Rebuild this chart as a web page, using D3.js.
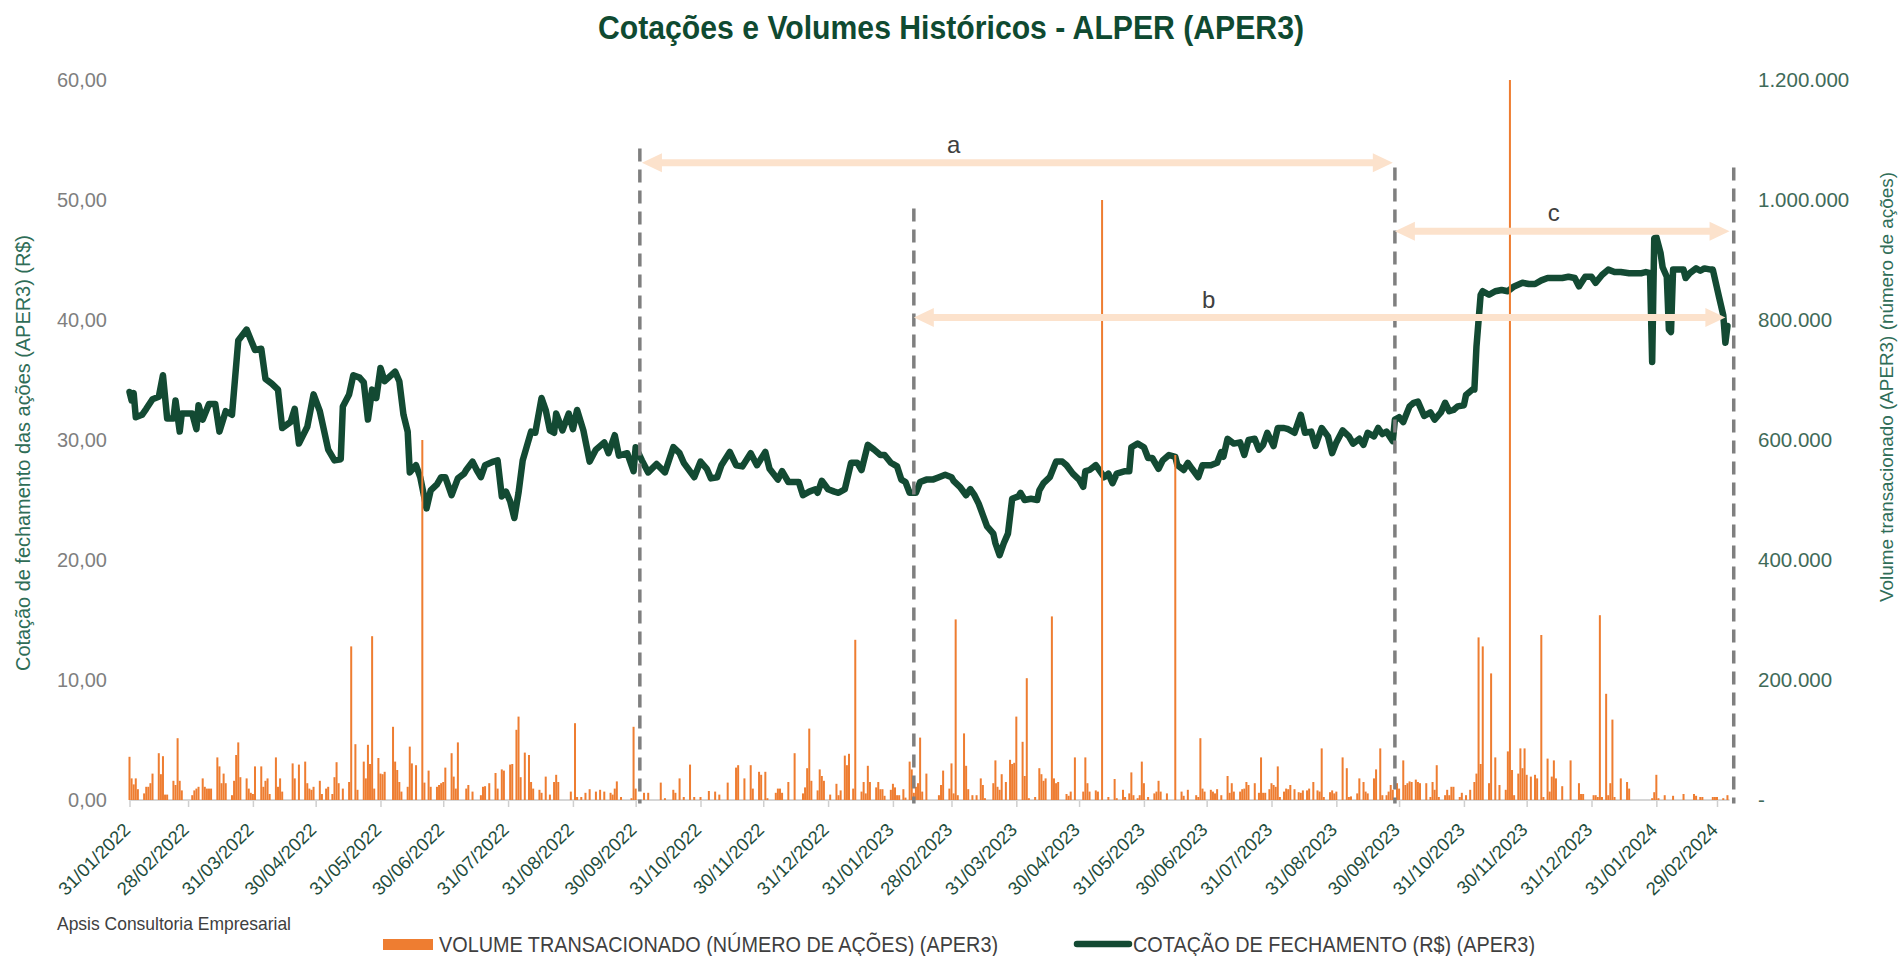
<!DOCTYPE html>
<html><head><meta charset="utf-8">
<script src="https://cdn.jsdelivr.net/npm/d3@7"></script>
<style>
body{margin:0;background:#fff;}
svg{display:block;}
text{font-family:'Liberation Sans',Arial,sans-serif;}
</style></head><body>
<svg id="chart" width="1898" height="956"></svg>
<script>
// ---------------- DATA ----------------
const START = "2022-01-31"; // day 0 of the series (days below are calendar days since START)
const tickLabels = ["31/01/2022","28/02/2022","31/03/2022","30/04/2022","31/05/2022","30/06/2022","31/07/2022","31/08/2022","30/09/2022","31/10/2022","30/11/2022","31/12/2022","31/01/2023","28/02/2023","31/03/2023","30/04/2023","31/05/2023","30/06/2023","31/07/2023","31/08/2023","30/09/2023","31/10/2023","30/11/2023","31/12/2023","31/01/2024","29/02/2024"];
const leftTicks = [0,10,20,30,40,50,60];
const rightTicks = [0,200000,400000,600000,800000,1000000,1200000];
// closing price (R$): [day, price]
const closePrice = [[0,34.0],[1,33.3],[2,33.9],[3,31.9],[6,32.1],[8,32.6],[11,33.4],[14,33.6],[16,35.4],[18,31.8],[21,31.8],[22,33.3],[24,30.7],[25,32.2],[30,32.2],[32,30.9],[33,32.9],[35,31.7],[38,33.0],[41,33.0],[43,30.7],[46,32.4],[49,32.1],[52,38.3],[56,39.2],[60,37.5],[63,37.6],[65,35.1],[68,34.7],[71,34.2],[73,31.0],[77,31.5],[79,32.6],[81,29.7],[85,31.1],[88,33.8],[91,32.4],[95,29.2],[98,28.3],[101,28.4],[102,32.8],[105,33.8],[107,35.4],[110,35.2],[112,34.8],[114,31.7],[116,34.2],[118,33.5],[120,36.0],[122,34.9],[127,35.7],[129,34.9],[131,32.1],[133,30.7],[134,27.3],[137,27.9],[139,26.9],[142,24.3],[144,25.8],[147,26.3],[149,26.9],[151,26.9],[154,25.4],[157,26.8],[160,27.2],[161,27.5],[164,28.2],[166,27.5],[168,26.9],[170,27.9],[174,28.2],[176,28.3],[178,25.3],[180,25.7],[182,24.9],[184,23.5],[186,25.6],[188,28.3],[192,30.7],[194,30.6],[197,33.5],[199,32.5],[201,30.8],[203,30.6],[204,32.2],[207,30.8],[210,32.2],[212,30.9],[214,32.5],[217,30.8],[220,28.2],[223,29.2],[227,29.8],[229,28.9],[232,30.4],[234,28.7],[238,28.9],[241,27.4],[242,29.4],[245,28.3],[248,27.3],[252,28.0],[256,27.3],[260,29.4],[263,28.9],[265,28.1],[270,26.9],[273,28.2],[276,27.6],[278,26.8],[281,26.9],[283,27.9],[287,29.0],[290,27.9],[293,27.8],[297,28.9],[300,27.9],[304,29.0],[306,27.6],[310,26.7],[312,27.4],[315,26.5],
[320,26.5],[322,25.4],[325,25.7],[328,25.9],[329,25.6],[331,26.6],[334,25.9],[337,25.7],[339,25.6],[342,25.9],[345,28.1],[348,28.1],[350,27.5],[353,29.6],[356,29.2],[359,28.75],[361,28.75],[364,28.1],[367,27.8],[369,26.7],[371,26.5],[373,25.6],[376,25.6],[378,26.5],[381,26.7],[384,26.7],[387,26.9],[390,27.1],[393,26.9],[394,26.6],[397,26.1],[400,25.4],[402,25.9],[404,25.4],[406,24.7],[408,23.75],[410,22.8],[413,22.2],[414,21.4],[416,20.4],[418,21.4],[420,22.2],[422,25.1],[425,25.3],[426,25.6],[428,25.0],[431,25.1],[434,25.0],[435,25.8],[437,26.4],[440,26.9],[443,28.2],[446,28.2],[448,27.9],[451,27.2],[454,26.7],[456,26.1],[457,27.4],[459,27.5],[462,27.9],[464,27.4],[466,26.9],[468,27.2],[470,26.4],[472,27.2],[476,27.4],[478,27.4],[479,29.4],[482,29.7],[485,29.4],[487,28.5],[489,28.5],[492,27.6],[494,28.3],[497,28.75],[500,28.6],[501,27.9],[504,27.5],[506,28.1],[508,27.6],[511,26.9],[513,27.9],[517,27.9],[520,28.1],[522,29.0],[523,28.6],[525,30.1],[528,29.7],[531,29.8],[533,28.75],[535,30.0],[538,30.1],[540,29.2],[542,29.6],[544,30.6],[547,29.5],[549,31.0],[552,31.0],[554,30.9],[557,30.6],[560,32.1],[562,30.6],[565,30.7],[567,29.5],[570,31.0],[573,30.3],[575,28.9],[577,29.8],[580,30.8],
[583,30.3],[585,29.7],[588,30.1],[590,29.6],[592,30.6],[595,30.3],[597,31.0],[599,30.5],[601,30.7],[604,29.9],[605,31.7],[607,31.9],[609,31.5],[612,32.8],[614,33.1],[616,33.2],[619,32.0],[622,32.3],[624,31.7],[627,32.3],[629,33.1],[631,32.4],[633,32.5],[635,32.8],[638,32.9],[639,33.75],[642,34.2],[643,34.2],[644,37.8],[646,42.1],[647,42.4],[650,42.1],[653,42.4],[656,42.5],[659,42.4],[662,42.8],[666,43.1],[669,43.0],[672,43.0],[675,43.3],[678,43.5],[682,43.5],[685,43.5],[688,43.6],[691,43.5],[693,42.8],[696,43.6],[699,43.6],[701,43.1],[704,43.75],[707,44.2],[710,44.0],[713,44.0],[717,43.9],[720,43.9],[723,43.9],[725,44.0],[727,43.9],[728,36.5],[729,46.8],[730,46.9],[732,45.6],[733,44.4],[735,43.6],[736,39.2],[737,39.0],[738,44.2],[740,44.2],[743,44.2],[744,43.5],[746,43.9],[749,44.3],[751,44.1],[753,44.3],[756,44.2],[757,44.2],[760,41.9],[762,40.4],[763,38.1],[764,39.5]];
// traded volume (thousand shares): [day, volume]
const volumeK = [[0,72],[1,36],[2,26],[3,36],[4,18],[7,11],[8,22],[9,22],[10,28],[11,44],[14,78],[15,43],[16,73],[17,9],[18,9],[21,32],[22,25],[23,103],[24,32],[25,16],[30,8],[31,16],[32,19],[33,22],[35,36],[36,22],[37,19],[38,19],[39,19],[42,71],[43,56],[44,28],[45,44],[46,28],[49,8],[50,32],[51,75],[52,96],[53,38],[56,36],[57,19],[58,12],[59,10],[60,56],[63,56],[64,22],[65,32],[66,36],[67,10],[70,71],[71,22],[72,36],[73,14],[78,61],[79,36],[81,59],[84,64],[85,28],[86,19],[87,17],[88,22],[91,32],[92,10],[94,19],[95,22],[97,10],[98,38],[99,63],[100,28],[102,19],[105,30],[106,256],[108,93],[109,17],[112,64],[113,36],[114,92],[115,60],[116,273],[117,19],[119,70],[120,44],[121,43],[122,47],[126,122],[127,64],[128,50],[129,30],[130,14],[133,22],[134,89],[135,61],[137,58],[140,600],[141,29],[143,49],[144,22],[147,22],[148,25],[149,28],[150,30],[151,54],[154,78],[155,39],[156,19],[157,96],[161,19],[162,25],[164,14],[168,8],[169,22],[170,23],[172,28],[175,45],[176,19],[178,51],[179,49],[182,59],[183,60],[185,117],[186,139],[187,38],[189,79],[191,75],[192,30],[193,19],[196,17],[197,12],[199,39],[201,9],[203,30],[204,42],[205,30],[211,14],[213,128],[214,5],[216,5],[218,12],[220,18],[223,14],[225,17],[227,14],[230,12],[231,9],[232,19],[233,31],[235,5],[240,3],[241,122],[242,19],[246,12],[248,12],[254,29],[256,3],[260,17],[261,12],[263,36],[265,5],[268,59],[270,5],[273,5],[277,15],[280,14],[282,9],[286,29],[290,54],[291,58],[294,36],[297,58],[298,19],[301,47],[302,42],[304,47],[305,3],[309,12],[310,19],[311,19],[312,12],[315,30],[318,78],
[322,11],[323,21],[324,53],[325,119],[326,32],[329,16],[330,51],[331,40],[332,32],[335,9],[338,27],[339,8],[340,16],[342,74],[343,58],[344,77],[346,19],[347,267],[350,14],[351,30],[352,11],[353,57],[354,30],[357,21],[358,30],[359,18],[360,18],[361,7],[364,17],[365,27],[366,21],[367,8],[368,8],[370,18],[371,4],[373,64],[374,51],[375,12],[376,22],[377,28],[378,104],[379,14],[381,44],[387,8],[388,25],[389,49],[392,19],[393,61],[394,11],[395,301],[396,8],[399,111],[400,57],[401,18],[403,8],[405,8],[407,36],[408,25],[409,3],[413,28],[414,66],[415,22],[416,17],[417,43],[419,30],[421,67],[422,60],[423,62],[424,139],[427,97],[428,40],[429,203],[430,3],[433,5],[435,53],[436,43],[437,32],[438,36],[441,306],[442,36],[443,28],[444,30],[448,10],[449,7],[450,14],[452,71],[456,14],[457,71],[458,28],[459,14],[462,16],[463,14],[465,1000],[468,5],[471,35],[472,3],[475,17],[476,5],[478,11],[479,46],[480,8],[482,3],[483,8],[484,64],[485,28],[487,5],[490,11],[491,14],[492,32],[493,14],[496,11],[500,575],[503,14],[504,7],[506,17],[510,8],[511,5],[512,103],[513,19],[514,14],[517,17],[518,14],[519,11],[520,18],[522,8],[525,40],[526,12],[527,28],[528,14],[531,14],[532,18],[533,19],[534,30],[535,25],[538,28],[540,12],[541,71],[542,12],[543,12],[545,18],[546,28],[547,25],[548,22],[549,56],[550,5],[552,14],[553,19],[554,18],[555,25],[557,18],
[559,13],[560,12],[561,16],[563,16],[564,19],[566,30],[568,16],[569,14],[570,86],[571,5],[574,13],[575,16],[576,11],[577,14],[580,71],[582,53],[583,5],[584,6],[587,11],[588,36],[590,30],[591,14],[592,11],[595,36],[596,51],[598,86],[599,8],[601,8],[602,14],[603,25],[604,17],[606,28],[607,19],[609,66],[610,25],[611,28],[612,31],[613,30],[615,34],[616,30],[617,28],[620,28],[622,5],[623,30],[624,17],[625,58],[626,5],[629,8],[630,17],[631,8],[632,22],[633,22],[636,5],[637,12],[639,8],[641,17],[643,30],[644,44],[645,271],[646,60],[647,256],[650,28],[651,211],[653,71],[655,25],[658,17],[659,81],[660,1200],[661,50],[662,8],[664,44],[665,86],[666,53],[667,86],[668,42],[670,39],[672,42],[673,36],[675,275],[676,5],[678,69],[679,14],[680,39],[681,66],[682,36],[685,23],[689,66],[693,28],[694,10],[695,10],[700,8],[701,8],[702,5],[703,308],[704,5],[706,177],[707,8],[708,28],[709,134],[710,5],[713,36],[716,30],[717,19],[728,3],[729,13],[730,42],[731,3],[734,8],[738,7],[743,10],[748,10],[749,7],[751,5],[752,5],[757,5],[758,5],[759,5],[762,3],[764,8]];
// period annotations (dashed markers: day, top in R$ units; arrows between days at R$ level)
const markerDays = [244, 375, 605, 767];
const markerTops = [54.3, 49.3, 52.7, 52.7];
const arrowNames = ["a","b","c"];
const arrowFrom = [245, 375.5, 605.5];
const arrowTo = [604, 763, 765.5];
const arrowLevel = [53.1, 40.2, 47.4];
const arrowLabelDay = [394, 516, 681];
const arrowLabelLevel = [54.6, 41.75, 49.0];

// ---------------- CHART ----------------
const svg = d3.select('#chart');
const t0 = d3.utcParse('%Y-%m-%d')(START);
const toDate = d => d3.utcDay.offset(t0, d);
const parseTick = d3.utcParse('%d/%m/%Y');
const tickDates = tickLabels.map(parseTick);

const x = d3.scaleUtc().domain([toDate(0), parseTick('29/02/2024')]).range([129.5, 1717]);
const yL = d3.scaleLinear().domain([0, 60]).range([800, 80]);
const yR = d3.scaleLinear().domain([0, 1200000]).range([800, 80]);

// title
svg.append('text').attr('x', 951).attr('y', 39).attr('text-anchor', 'middle')
  .attr('font-size', 33).attr('font-weight', 'bold').attr('fill', '#0f4a31')
  .attr('textLength', 706).attr('lengthAdjust', 'spacingAndGlyphs')
  .text('Cotações e Volumes Históricos - ALPER (APER3)');

// left axis
const gL = svg.append('g').attr('transform', 'translate(107,0)')
  .call(d3.axisLeft(yL).tickValues(leftTicks).tickSize(0).tickPadding(0)
    .tickFormat(d => d3.format('.2f')(d).replace('.', ',')));
gL.select('.domain').remove();
gL.selectAll('text').attr('font-size', 20).attr('fill', '#7f7f7f').attr('font-family', "'Liberation Sans',Arial,sans-serif");

// right axis
const gR = svg.append('g').attr('transform', 'translate(1758,0)')
  .call(d3.axisRight(yR).tickValues(rightTicks).tickSize(0).tickPadding(0)
    .tickFormat(d => d === 0 ? '-' : d3.format(',')(d).replace(/,/g, '.')));
gR.select('.domain').remove();
gR.selectAll('text').attr('font-size', 20.5).attr('fill', '#3f6b59').attr('font-family', "'Liberation Sans',Arial,sans-serif");

// axis titles
svg.append('text').attr('transform', 'translate(30,453) rotate(-90)').attr('text-anchor', 'middle')
  .attr('font-size', 20).attr('fill', '#2f6d57').attr('textLength', 436).attr('lengthAdjust', 'spacingAndGlyphs')
  .text('Cotação de fechamento das ações (APER3) (R$)');
svg.append('text').attr('transform', 'translate(1893,387) rotate(-90)').attr('text-anchor', 'middle')
  .attr('font-size', 19).attr('fill', '#2f6d57').attr('textLength', 430).attr('lengthAdjust', 'spacingAndGlyphs')
  .text('Volume transacionado (APER3) (número de ações)');

// x axis
const gX = svg.append('g').attr('transform', 'translate(0,800)')
  .call(d3.axisBottom(x).tickValues(tickDates).tickSize(7).tickSizeOuter(0).tickFormat(''));
gX.select('.domain').remove();
gX.selectAll('.tick line').attr('stroke', '#cfcfcf').attr('stroke-width', 1.5);
svg.append('line').attr('x1', x(toDate(0))).attr('x2', x(toDate(765))).attr('y1', 800).attr('y2', 800)
  .attr('stroke', '#d6d6d6').attr('stroke-width', 2);
svg.append('g').selectAll('text').data(tickDates).join('text')
  .attr('transform', d => `translate(${x(d) + 2},831) rotate(-45)`)
  .attr('text-anchor', 'end').attr('font-size', 18.5).attr('fill', '#1f4d3c')
  .text((d, i) => tickLabels[i]);

// price line
const line = d3.line().x(d => x(toDate(d[0]))).y(d => yL(d[1]));
svg.append('path').datum(closePrice).attr('d', line).attr('fill', 'none')
  .attr('stroke', '#134a33').attr('stroke-width', 6.5).attr('stroke-linejoin', 'round').attr('stroke-linecap', 'round');

// volume bars (secondary axis, drawn on top)
svg.append('g').selectAll('rect').data(volumeK).join('rect')
  .attr('x', d => x(toDate(d[0])) - 1).attr('width', 2)
  .attr('y', d => yR(d[1] * 1000)).attr('height', d => 800 - yR(d[1] * 1000))
  .attr('fill', '#ee7d31');

// dashed markers
svg.append('g').selectAll('line').data(markerDays).join('line')
  .attr('x1', d => x(toDate(d))).attr('x2', d => x(toDate(d)))
  .attr('y1', (d, i) => yL(markerTops[i])).attr('y2', yL(-0.3))
  .attr('stroke', '#7f7f7f').attr('stroke-width', 3.5).attr('stroke-dasharray', '13 8');

// arrows
const arrowColor = '#fce2cc';
arrowNames.forEach((nm, i) => {
  const xa = x(toDate(arrowFrom[i])), xb = x(toDate(arrowTo[i])), yy = yL(arrowLevel[i]);
  const hl = 20, hw = 9.5;
  const g = svg.append('g');
  g.append('line').attr('x1', xa + hl - 2).attr('x2', xb - hl + 2).attr('y1', yy).attr('y2', yy)
    .attr('stroke', arrowColor).attr('stroke-width', 7);
  g.append('path').attr('d', `M${xa},${yy}L${xa + hl},${yy - hw}L${xa + hl},${yy + hw}Z`).attr('fill', arrowColor);
  g.append('path').attr('d', `M${xb},${yy}L${xb - hl},${yy - hw}L${xb - hl},${yy + hw}Z`).attr('fill', arrowColor);
  svg.append('text').attr('x', x(toDate(arrowLabelDay[i]))).attr('y', yL(arrowLabelLevel[i]))
    .attr('text-anchor', 'middle').attr('dominant-baseline', 'central')
    .attr('font-family', "'Open Sans',sans-serif").attr('font-size', 24).attr('fill', '#404040').text(nm);
});

// footer
svg.append('text').attr('x', 57).attr('y', 930).attr('font-size', 19).attr('fill', '#404040')
  .attr('textLength', 234).attr('lengthAdjust', 'spacingAndGlyphs').text('Apsis Consultoria Empresarial');

// legend
svg.append('rect').attr('x', 383).attr('y', 939).attr('width', 50).attr('height', 11).attr('fill', '#ee7d31');
svg.append('text').attr('x', 439).attr('y', 952).attr('font-size', 22).attr('fill', '#404040')
  .attr('textLength', 559).attr('lengthAdjust', 'spacingAndGlyphs').text('VOLUME TRANSACIONADO (NÚMERO DE AÇÕES) (APER3)');
svg.append('line').attr('x1', 1077).attr('x2', 1129).attr('y1', 944).attr('y2', 944)
  .attr('stroke', '#134a33').attr('stroke-width', 6.5).attr('stroke-linecap', 'round');
svg.append('text').attr('x', 1133).attr('y', 952).attr('font-size', 22).attr('fill', '#404040')
  .attr('textLength', 402).attr('lengthAdjust', 'spacingAndGlyphs').text('COTAÇÃO DE FECHAMENTO (R$) (APER3)');
</script>
</body></html>
